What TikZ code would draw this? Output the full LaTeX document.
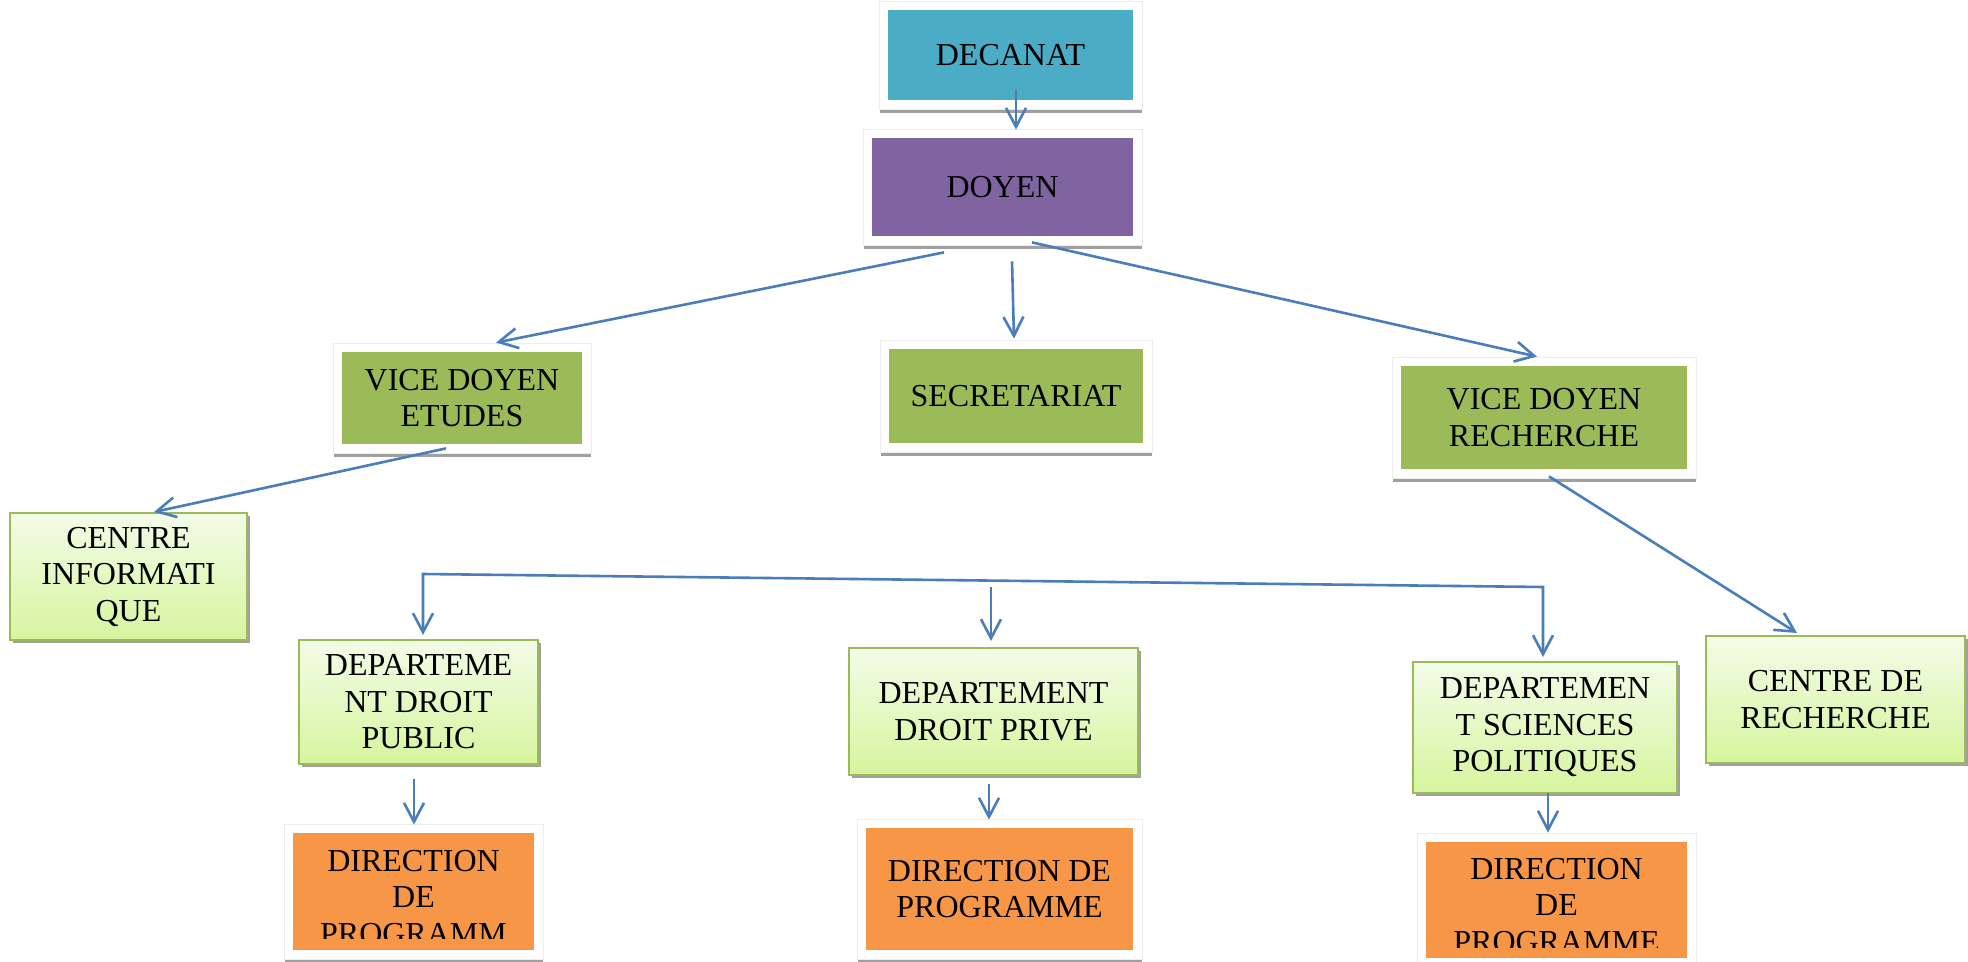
\documentclass[tikz,border=0pt]{standalone}
\usepackage{fontspec}
\setmainfont{Liberation Serif}
\usetikzlibrary{arrows.meta,calc,shadows,backgrounds}
\definecolor{cdecanat}{HTML}{4BACC6}
\definecolor{cdoyen}{HTML}{8064A2}
\definecolor{cgreen}{HTML}{9BBB59}
\definecolor{corange}{HTML}{F79646}
\definecolor{carrow}{HTML}{4A7EBB}
\definecolor{clight}{HTML}{F3FCE8}
\definecolor{clightb}{HTML}{D6F59E}
\definecolor{cshadow}{HTML}{A0A0A0}
\definecolor{cframe}{HTML}{EDEDED}
\newcommand\wframe[1]{%
  \begin{scope}[on background layer]
    \fill[cshadow] ($(#1.north west)+(-8,-4)$) rectangle ($(#1.south east)+(9,13)$);
    \filldraw[fill=white,draw=cframe,line width=0.5pt] ($(#1.north west)+(-8,-8)$) rectangle ($(#1.south east)+(9,9)$);
  \end{scope}}
\begin{document}
\begin{tikzpicture}[x=0.5pt,y=-0.5pt,
  txt/.style={font=\fontsize{16}{18.25}\selectfont, align=center, text=black, inner sep=0pt},
  sz/.style 2 args={minimum width=#1*0.5pt, minimum height=#2*0.5pt},
  solid/.style={txt, draw=none, rectangle},
  light/.style={txt, rectangle, draw=cgreen, line width=1pt, top color=clight, bottom color=clightb,
    drop shadow={shadow xshift=1.6pt, shadow yshift=-1.6pt, fill=cshadow, opacity=1}},
  arr/.style={draw=carrow, line width=1.3pt, -{Straight Barb[length=9.5pt,width=10pt]}},
  arrboth/.style={draw=carrow, line width=1.3pt, {Straight Barb[length=9.5pt,width=10pt]}-{Straight Barb[length=9.5pt,width=10pt]}}]
\useasboundingbox (0,0) rectangle (1968,962);
\begin{scope}[on background layer]
  \fill[white] (0,0) rectangle (1968,962);
\end{scope}

% boxes
\node[solid, fill=cdecanat, sz={245}{90}] (decanat) at (1010.5,55) {DECANAT};
\node[solid, fill=cdoyen, sz={261}{98}] (doyen) at (1002.5,187) {DOYEN};
\node[solid, fill=cgreen, sz={240}{92}] (vde) at (462,398) {VICE DOYEN\\ETUDES};
\node[solid, fill=cgreen, sz={254}{94}] (secr) at (1016,396) {SECRETARIAT};
\node[solid, fill=cgreen, sz={286}{103}] (vdr) at (1544,417.5) {VICE DOYEN\\RECHERCHE};
\node[light, sz={237}{127}] (ci) at (128.5,576.5) {CENTRE\\INFORMATI\\QUE};
\node[light, sz={239}{124}] (ddp) at (418.5,702) {DEPARTEME\\NT DROIT\\PUBLIC};
\node[light, sz={289}{127}] (ddpr) at (993.5,711.5) {DEPARTEMENT\\DROIT PRIVE};
\node[light, sz={264}{131}] (dsp) at (1545,727.5) {DEPARTEMEN\\T SCIENCES\\POLITIQUES};
\node[light, sz={259}{127}] (cdr) at (1835.5,699.5) {CENTRE DE\\RECHERCHE};
\node[solid, fill=corange, sz={241}{117}] (dirl) at (413.5,891.5) {};
\node[solid, fill=corange, sz={267}{122}] (dirm) at (999.5,889) {DIRECTION DE\\PROGRAMME};
\node[solid, fill=corange, sz={261}{116}] (dirr) at (1556.5,900) {};

\begin{scope}
  \clip (dirl.north west) rectangle ($(dirl.south east)+(0,-12)$);
  \node[txt] (dirltxt) at ($(dirl.center)+(0,6)$) {DIRECTION\\DE\\PROGRAMM};
\end{scope}
\begin{scope}
  \clip (dirr.north west) rectangle ($(dirr.south east)+(0,-11)$);
  \node[txt] (dirrtxt) at ($(dirr.center)+(0,5.5)$) {DIRECTION\\DE\\PROGRAMME};
\end{scope}

% white frames with bottom shadow
\wframe{decanat}
\wframe{doyen}
\wframe{vde}
\wframe{secr}
\wframe{vdr}
\wframe{dirl}
\wframe{dirm}
\wframe{dirr}

% connectors
\draw[arr] ($(decanat.south)+(5.5,-11)$) -- ($(doyen.north)+(13.5,-8)$);
\draw[arr] ($(doyen.south)+(-58.5,16)$) -- ($(vde.north)+(34,-9)$);
\draw[arr] ($(doyen.south)+(9.5,25)$) -- ($(secr.north)+(-2,-10)$);
\draw[arr] ($(doyen.south)+(29.5,6)$) -- ($(vdr.north)+(-7,-9)$);
\draw[arr] ($(vde.south)+(-16,4)$) -- ($(ci.north)+(25.5,0)$);
\draw[arr] ($(vdr.south)+(5,7)$) -- ($(cdr.north)+(-38.5,-2)$);

\coordinate (brl) at (423,574);
\coordinate (brr) at (1543,587);
\coordinate (brm) at (991,587);
\draw[arrboth] ($(ddp.north)+(4.5,-4)$) -- (brl) -- (brr) -- ($(dsp.north)+(-2,-4)$);
\draw[arr] (brm) -- ($(ddpr.north)+(-2.5,-6)$);

\draw[arr] ($(ddp.south)+(-4.5,14)$) -- ($(dirl.north)+(0.5,-8)$);
\draw[arr] ($(ddpr.south)+(-4.5,8)$) -- ($(dirm.north)+(-10.5,-8)$);
\draw[arr] ($(dsp.south)+(3,-1)$) -- ($(dirr.north)+(-8.5,-9)$);
\end{tikzpicture}
\end{document}
